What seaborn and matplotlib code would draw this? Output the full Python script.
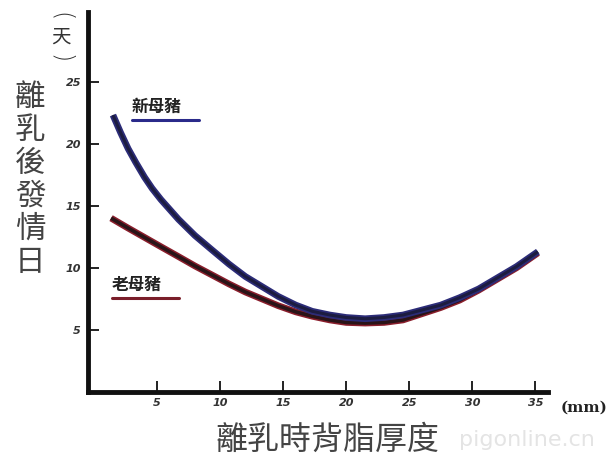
import numpy as np
import pandas as pd
import seaborn as sns
import matplotlib.pyplot as plt

# values (backfat mm -> days to oestrus)
gilt_x = [1.5, 2.1, 2.7, 3.3, 4.0, 4.6, 5.3, 6.0, 6.7, 7.3, 8.0, 8.7, 9.4, 10.7,
          12.0, 13.3, 14.6, 16.0, 17.3, 18.7, 20.0, 21.5, 23.0, 24.5, 26.0,
          27.5, 29.0, 30.5, 32.0, 33.5, 35.2]
gilt_y = [22.3, 20.9, 19.6, 18.5, 17.3, 16.4, 15.5, 14.7, 13.9, 13.3, 12.6, 12.0,
          11.4, 10.3, 9.3, 8.5, 7.7, 7.0, 6.5, 6.2, 6.0, 5.9, 6.0, 6.2, 6.6,
          7.0, 7.6, 8.3, 9.2, 10.1, 11.3]
sow_x = [1.35, 2.7, 4.0, 5.3, 6.7, 8.0, 9.4, 10.7, 12.0, 13.3, 14.6, 16.0, 17.3,
         18.7, 20.0, 21.5, 23.0, 24.5, 26.0, 27.5, 29.0, 30.5, 32.0, 33.5, 35.2]
sow_y = [14.0, 13.2, 12.45, 11.7, 10.9, 10.15, 9.4, 8.7, 8.05, 7.5, 6.95, 6.45, 6.1,
         5.8, 5.6, 5.55, 5.6, 5.8, 6.3, 6.8, 7.4, 8.2, 9.1, 10.0, 11.2]
x_ticks = [5, 10, 15, 20, 25, 30, 35]
y_ticks = [5, 10, 15, 20, 25]

sns.set_style("white")
plt.rcParams['font.family'] = ['Noto Sans CJK TC', 'DejaVu Sans']

gilt = pd.DataFrame({"x": gilt_x, "y": gilt_y})
sow = pd.DataFrame({"x": sow_x, "y": sow_y})

fig = plt.figure(figsize=(6.08, 4.65), dpi=100)
ax = fig.add_axes([88 / 608, 73 / 465, 460 / 608, 380 / 465])

# old sow: dark line with a reddish fringe
sns.lineplot(data=sow, x="x", y="y", ax=ax, color="#8a1e2c", linewidth=4.8,
             solid_capstyle="butt", solid_joinstyle="round")
sns.lineplot(data=sow, x="x", y="y", ax=ax, color="#2a1418", linewidth=2.6,
             solid_capstyle="butt", solid_joinstyle="round")
# gilt: navy
sns.lineplot(data=gilt, x="x", y="y", ax=ax, color="#2c2c78", linewidth=4.8,
             solid_capstyle="butt", solid_joinstyle="round")
sns.lineplot(data=gilt, x="x", y="y", ax=ax, color="#1c1c40", linewidth=2.2,
             solid_capstyle="butt", solid_joinstyle="round")

ax.set_xlim(-0.48, 36.0)
ax.set_ylim(0, 30.6)
ax.set_xticks(x_ticks)
ax.set_yticks(y_ticks)
ax.set_xticklabels([str(t) for t in x_ticks], fontsize=8, fontstyle="italic",
                   fontweight="bold", family="DejaVu Sans", color="#333333")
ax.set_yticklabels([str(t) for t in y_ticks], fontsize=8, fontstyle="italic",
                   fontweight="bold", family="DejaVu Sans", color="#333333")
ax.tick_params(axis="both", direction="in", length=8, width=1.4, color="#222222",
               bottom=True, left=True)
ax.tick_params(axis="x", pad=4)
ax.tick_params(axis="y", pad=5)
ax.set_xlabel("")
ax.set_ylabel("")

sns.despine(ax=ax)
for side in ["left", "bottom"]:
    ax.spines[side].set_linewidth(3.5)
    ax.spines[side].set_color("#111111")

# series labels
ax.text(3.0, 23.0, "新母豬", fontsize=12, fontweight="bold", color="#222222",
        ha="left", va="center")
ax.plot([3.0, 8.3], [21.9, 21.9], color="#2a2a8a", linewidth=2.2)
ax.text(1.4, 8.6, "老母豬", fontsize=12, fontweight="bold", color="#222222",
        ha="left", va="center")
ax.plot([1.4, 6.7], [7.6, 7.6], color="#7a1e2a", linewidth=2.2)

# unit labels: vertical "(天)"
fig.text(61 / 608, 1 - 17 / 465, "(", fontsize=17, color="#333333",
         ha="center", va="center", rotation=-90, family="DejaVu Sans",
         fontweight="light")
fig.text(61 / 608, 1 - 37 / 465, "天", fontsize=14, color="#333333",
         ha="center", va="center")
fig.text(61 / 608, 1 - 59 / 465, ")", fontsize=17, color="#333333",
         ha="center", va="center", rotation=-90, family="DejaVu Sans",
         fontweight="light")
fig.text(584 / 608, 1 - 408 / 465, "(mm)", fontsize=11, fontweight="bold",
         color="#222222", ha="center", va="center", family="DejaVu Serif")

# axis titles
fig.text(30 / 608, 1 - 180 / 465, "\n".join("離乳後發情日"), fontsize=22,
         color="#444444", ha="center", va="center", linespacing=1.08,
         fontweight="light")
fig.text(327 / 608, 1 - 440 / 465, "離乳時背脂厚度", fontsize=23,
         color="#444444", ha="center", va="center", fontweight="light")

# watermark
fig.text(527 / 608, 1 - 440 / 465, "pigonline.cn", fontsize=16,
         color="#e4e4e4", ha="center", va="center", family="DejaVu Sans")

fig.savefig("out.png", dpi=100)
